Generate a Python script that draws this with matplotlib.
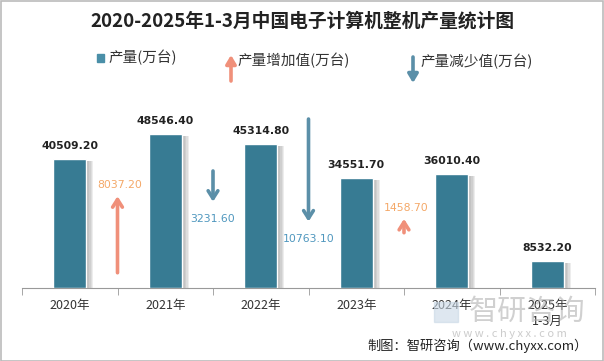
import matplotlib
matplotlib.use("Agg")
import matplotlib.pyplot as plt
import matplotlib.patheffects as pe
from matplotlib.patches import Rectangle

plt.rcParams['font.family'] = ['Noto Sans CJK SC', 'DejaVu Sans']

title = "2020-2025年1-3月中国电子计算机整机产量统计图"
years = ['2020年', '2021年', '2022年', '2023年', '2024年', '2025年\n1-3月']
production = [40509.2, 48546.4, 45314.8, 34551.7, 36010.4, 8532.2]
change_labels = ['8037.20', '3231.60', '10763.10', '1458.70']
changes = [8037.2, -3231.6, -10763.1, 1458.7]
change_pos = [0.5, 1.5, 2.5, 3.5]
arrow_base = [1600, 12280, 17730, 5800]

BAR = '#377B93'
UP = '#F0907A'
DOWN = '#5B8FA8'
UP_TXT = '#F4A868'
DOWN_TXT = '#4F97BE'

W, H = 604, 361
fig = plt.figure(figsize=(W / 100, H / 100), dpi=100)
fig.patch.set_facecolor('white')
fig.add_artist(Rectangle((0.5 / W, 0.5 / H), 1 - 1.5 / W, 1 - 1.5 / H, transform=fig.transFigure,
                         fill=False, edgecolor='#BBBBBB', lw=1.2))

ax = fig.add_axes([22 / W, (H - 288) / H, 573 / W, 190.6 / H])
ax.set_xlim(-0.5, 5.5)
ax.set_ylim(0, 60000)
x = list(range(len(years)))
bars = ax.bar(x, production, width=0.35, color=BAR, edgecolor='white', linewidth=1, zorder=3)
shadow = [pe.SimplePatchShadow(offset=(k, -1.5), shadow_rgbFace='#777777', alpha=0.13) for k in (5, 4, 3, 2, 1)]
for b in bars:
    b.set_path_effects(shadow + [pe.Normal()])
for xi, v in zip(x, production):
    ax.annotate(f'{v:.2f}', (xi, v), xytext=(0, 8), textcoords='offset pixels', ha='center',
                va='bottom', fontsize=7.8, fontweight='bold', color='#222222', family='DejaVu Sans',
                zorder=5)

for s in ['top', 'right', 'left']:
    ax.spines[s].set_visible(False)
ax.spines['bottom'].set_color('#999999')
ax.set_yticks([])
ax.set_xticks(x)
ax.set_xticklabels(years, fontsize=9, color='#333333', linespacing=1.3)
ax.tick_params(axis='x', which='major', length=0, pad=8)
ax.set_xticks([i - 0.5 for i in range(len(years) + 1)], minor=True)
ax.tick_params(axis='x', which='minor', length=5, color='#999999', direction='out')

ax2 = ax.twinx()
ax2.set_ylim(0, 20000)
ax2.axis('off')
for p, c, b, lab in zip(change_pos, changes, arrow_base, change_labels):
    col = UP if c > 0 else DOWN
    tcol = UP_TXT if c > 0 else DOWN_TXT
    tip = b + c
    ax2.annotate('', xy=(p, tip), xytext=(p, b),
                 arrowprops=dict(arrowstyle='->,head_length=0.55,head_width=0.35', lw=2.6, color=col,
                                 shrinkA=0, shrinkB=0))
    if c > 0:
        ax2.annotate(lab, (p, tip), xytext=(2, 11), textcoords='offset pixels', ha='center',
                     va='center', fontsize=7.8, color=tcol, family='DejaVu Sans')
    else:
        ax2.annotate(lab, (p, tip), xytext=(0, -17), textcoords='offset pixels', ha='center',
                     va='center', fontsize=7.8, color=tcol, family='DejaVu Sans')

# title
fig.text(302 / W, 1 - 21 / H, title, ha='center', va='center', fontsize=13.5, fontweight='bold',
         color='#222222')

# legend
fig.add_artist(Rectangle(((100 - 3.5) / W, 1 - (58 + 3.5) / H), 7 / W, 7 / H, transform=fig.transFigure,
                         color='#4A8FA8'))
fig.text(108 / W, 1 - 57 / H, '产量(万台)', ha='left', va='center', fontsize=10.5, color='#333333')
fig.add_artist(plt.Annotation('', xy=(231, H - 55), xytext=(231, H - 81), xycoords='figure pixels',
                              arrowprops=dict(arrowstyle='-|>,head_length=0.5,head_width=0.3', lw=2.6,
                                              color=UP, shrinkA=0, shrinkB=0)))
fig.text(237 / W, 1 - 60 / H, '产量增加值(万台)', ha='left', va='center', fontsize=10.5, color='#333333')
fig.add_artist(plt.Annotation('', xy=(413, H - 83), xytext=(413, H - 57), xycoords='figure pixels',
                              arrowprops=dict(arrowstyle='-|>,head_length=0.5,head_width=0.3', lw=2.6,
                                              color=DOWN, shrinkA=0, shrinkB=0)))
fig.text(420 / W, 1 - 61 / H, '产量减少值(万台)', ha='left', va='center', fontsize=10.5, color='#333333')

# watermark
fig.add_artist(Rectangle((434 / W, 1 - 322 / H), 24 / W, 20 / H, transform=fig.transFigure,
                         color='#C9D8E6', alpha=0.6))
fig.text(527 / W, 1 - 312 / H, '智研咨询', ha='center', va='center', fontsize=21, color='#AAAAAA',
         alpha=0.55)
fig.text(509 / W, 1 - 334 / H, 'w w w . c h y x x . c o m', ha='center', va='center', fontsize=8,
         color='#AAAAAA', alpha=0.6)

# footer
fig.text(588 / W, 1 - 346 / H, '制图：智研咨询（www.chyxx.com）', ha='right', va='center', fontsize=9.5,
         color='#222222')

fig.savefig('out.png', dpi=100)
